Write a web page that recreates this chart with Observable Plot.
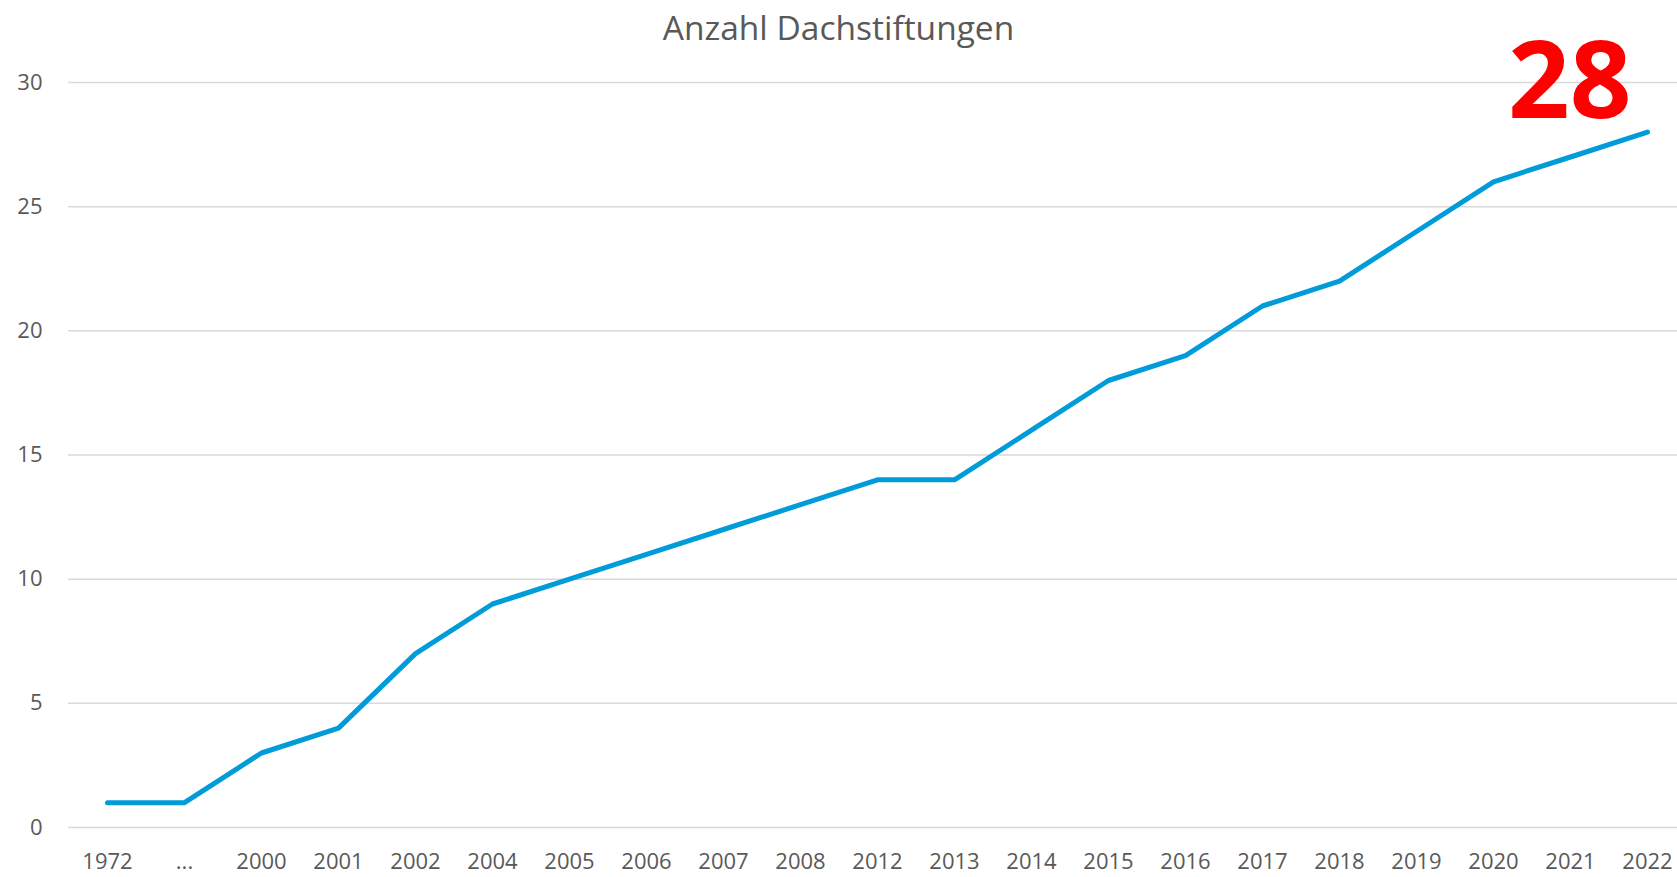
<!DOCTYPE html>
<html>
<head>
<meta charset="utf-8">
<script src="https://cdn.jsdelivr.net/npm/d3@7"></script>
<script src="https://cdn.jsdelivr.net/npm/@observablehq/plot@0.6"></script>
<style>
  html, body { margin: 0; padding: 0; background: #fff; overflow: hidden; }
  #wrap { position: relative; width: 1677px; height: 877px; }
  #title { position: absolute; left: 0; top: 3px; width: 1677px; height: 48px; line-height: 48px; text-align: center; font-family: "Open Sans", sans-serif; font-size: 33.5px; color: #595959; z-index: 2; }
  #chart svg { display: block; }
</style>
</head>
<body>
<div id="wrap">
<div id="chart"></div>
<div id="title">Anzahl Dachstiftungen</div>
</div>
<script>
const years = ["1972", "...", "2000", "2001", "2002", "2004", "2005", "2006", "2007", "2008", "2012", "2013", "2014", "2015", "2016", "2017", "2018", "2019", "2020", "2021", "2022"];
const counts = [1, 1, 3, 4, 7, 9, 10, 11, 12, 13, 14, 14, 16, 18, 19, 21, 22, 24, 26, 27, 28];
const yTicks = [0, 5, 10, 15, 20, 25, 30];
const highlight = "28";

const data = years.map((y, i) => ({year: y, count: counts[i]}));
const last = data[data.length - 1];

const W = 1677, H = 877;
const chart = Plot.plot({
  width: W,
  height: H,
  marginLeft: 68,
  marginRight: 0,
  marginTop: 82,
  marginBottom: 50,
  style: {fontFamily: "'Open Sans', sans-serif", fontSize: "22px", color: "#595959", background: "#fff"},
  x: {type: "point", domain: years, range: [105, 1649], padding: 0, label: null},
  y: {domain: [0, 30], ticks: yTicks, label: null},
  marks: [
    Plot.ruleY(yTicks, {stroke: "#d9d9d9", strokeWidth: 1.5}),
    Plot.axisY(yTicks, {tickSize: 0, tickPadding: 26, fontSize: 22, fill: "#595959", label: null}),
    Plot.axisX({tickSize: 0, tickPadding: 26, fontSize: 22, fill: "#595959", label: null}),
    Plot.line(data, {x: "year", y: "count", stroke: "#009bd9", strokeWidth: 5, strokeLinecap: "round", strokeLinejoin: "round"}),
    Plot.text([last], {x: "year", y: "count", text: () => highlight, fill: "#ff0000", fontSize: 108, fontWeight: 700, textAnchor: "end", lineAnchor: "bottom", dx: -16, dy: -14})
  ]
});
document.getElementById("chart").appendChild(chart);
</script>
</body>
</html>
